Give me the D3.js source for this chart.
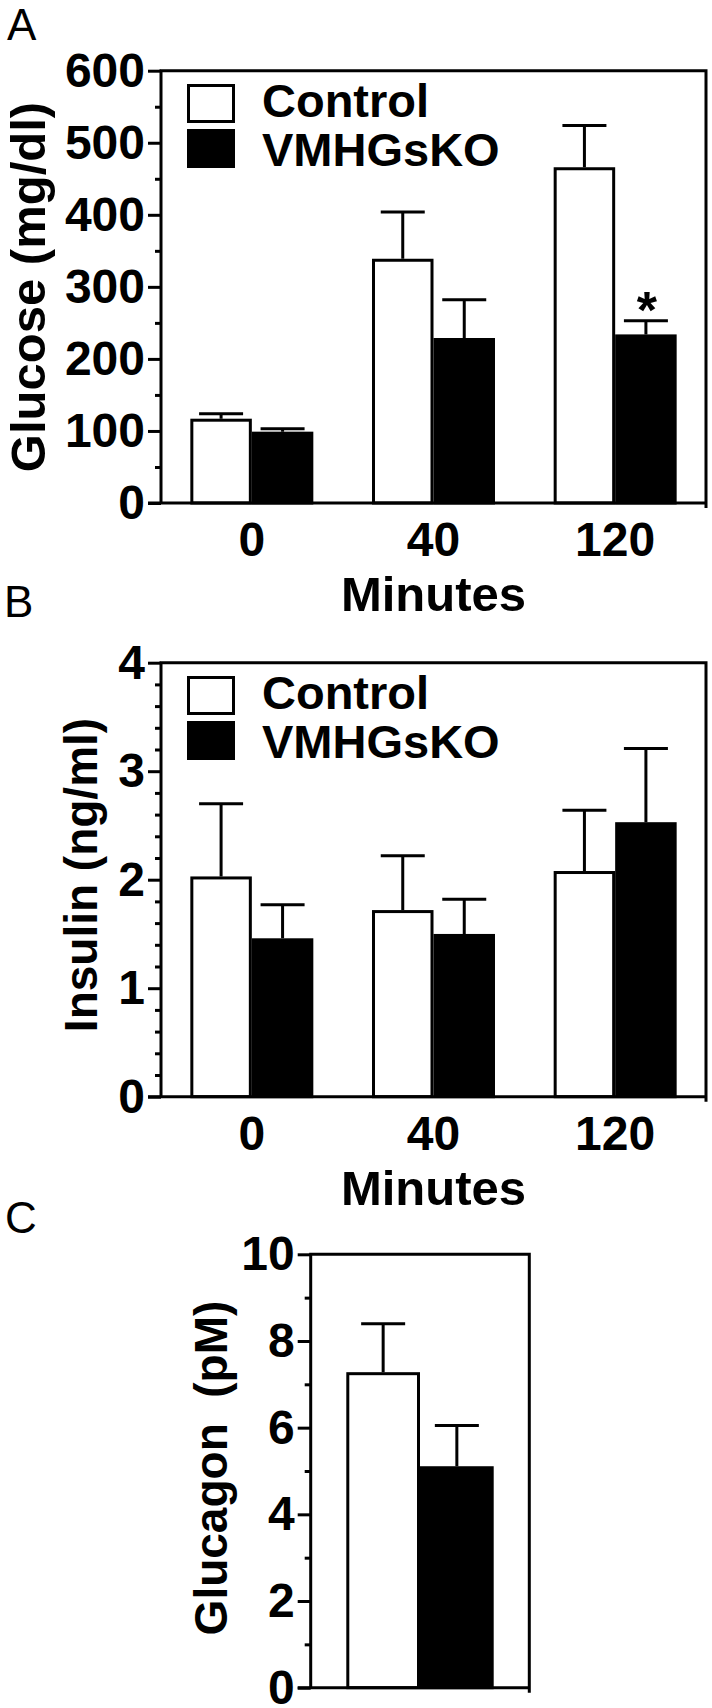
<!DOCTYPE html>
<html>
<head>
<meta charset="utf-8">
<script src="https://cdn.jsdelivr.net/npm/d3@7"></script>
<style>
  html, body { margin: 0; padding: 0; background: #fff; }
  svg { display: block; }
  text { font-family: "Liberation Sans", Arial, Helvetica, sans-serif; }
</style>
</head>
<body>
<script>
// ---------------- DATA ----------------
const timeCategories = ["0", "40", "120"];
const seriesNames = ["Control", "VMHGsKO"];

const glucoseControl = [117, 339, 466];
const glucoseControlSem = [7, 65, 58];
const glucoseKO = [99, 229, 234];
const glucoseKOSem = [4, 53, 19];
const glucoseMajorTicks = [0, 100, 200, 300, 400, 500, 600];
const glucoseMinorTicks = [50, 150, 250, 350, 450, 550];

const insulinControl = [2.03, 1.72, 2.08];
const insulinControlSem = [0.67, 0.50, 0.56];
const insulinKO = [1.46, 1.50, 2.53];
const insulinKOSem = [0.31, 0.32, 0.68];
const insulinMajorTicks = [0, 1, 2, 3, 4];
const insulinMinorTicks = [0.2, 0.4, 0.6, 0.8, 1.2, 1.4, 1.6, 1.8, 2.2, 2.4, 2.6, 2.8, 3.2, 3.4, 3.6, 3.8];

const glucagonValues = [7.28, 5.11];
const glucagonSem = [1.12, 0.94];
const glucagonMajorTicks = [0, 2, 4, 6, 8, 10];
const glucagonMinorTicks = [1, 3, 5, 7, 9];

const significance = [{ panel: "A", series: 1, category: 2, mark: "*" }];

// ---------------- DRAWING ----------------
const W = 712, H = 1708;
const svg = d3.select("body").append("svg").attr("width", W).attr("height", H);

const LW = 3;
const fills = ["#ffffff", "#000000"];
const CAP = 22;

function drawFrameAndAxes(g, y, box, major, minor, fmt) {
  g.append("g").attr("transform", `translate(${box.left},0)`)
    .call(d3.axisLeft(y).tickValues(minor).tickSize(6).tickSizeOuter(0).tickFormat(""))
    .call(s => s.select(".domain").remove())
    .call(s => s.selectAll("line").attr("stroke", "#000").attr("stroke-width", LW));
  g.append("g").attr("transform", `translate(${box.left},0)`)
    .call(d3.axisLeft(y).tickValues(major).tickSize(13).tickSizeOuter(0).tickPadding(3).tickFormat(fmt))
    .call(s => s.select(".domain").remove())
    .call(s => s.selectAll("line").attr("stroke", "#000").attr("stroke-width", LW))
    .call(s => s.selectAll("text").attr("fill", "#000")
      .style("font-family", '"Liberation Sans", Arial, sans-serif')
      .style("font-size", "48px").style("font-weight", "bold"));
  const y0 = y.range()[0], y1 = y.range()[1];
  g.append("path")
    .attr("d", `M${box.left},${y0} V${y1} H${box.right} V${y0 + 5}`)
    .attr("fill", "none").attr("stroke", "#000").attr("stroke-width", LW)
    .attr("stroke-linejoin", "miter");
  g.append("path")
    .attr("d", `M${box.left - 13},${y0} H${box.right}`)
    .attr("fill", "none").attr("stroke", "#000").attr("stroke-width", LW);
}

function drawBarsGrouped(g, x, xInner, y, seriesVals, seriesSems) {
  seriesVals.forEach((vals, si) => {
    const sems = seriesSems[si];
    const data = timeCategories.map((c, i) => ({ c, v: vals[i], e: sems[i] }));
    const gx = c => x(c) + xInner(seriesNames[si]);
    const bw = xInner.bandwidth();
    g.append("g").selectAll("path").data(data).join("path")
      .attr("d", d => {
        const cx = gx(d.c) + bw / 2;
        return `M${cx},${y(d.v)} V${y(d.v + d.e)} M${cx - CAP},${y(d.v + d.e)} H${cx + CAP}`;
      })
      .attr("fill", "none").attr("stroke", "#000").attr("stroke-width", LW);
    g.append("g").selectAll("rect").data(data).join("rect")
      .attr("x", d => gx(d.c) + LW / 2)
      .attr("width", bw - LW)
      .attr("y", d => y(d.v) + LW / 2)
      .attr("height", d => y(0) - y(d.v) - LW / 2)
      .attr("fill", fills[si]).attr("stroke", "#000").attr("stroke-width", LW);
  });
}

function drawLegend(g, top) {
  const boxX = 188.5, boxW = 45, boxH = 36;
  const rows = [top + 14.8, top + 59.8];
  const base = [top + 46.5, top + 95.5];
  seriesNames.forEach((n, i) => {
    g.append("rect").attr("x", boxX).attr("y", rows[i]).attr("width", boxW).attr("height", boxH)
      .attr("fill", fills[i]).attr("stroke", "#000").attr("stroke-width", LW);
    g.append("text").attr("x", 262).attr("y", base[i]).text(n)
      .style("font-size", "47px").style("font-weight", "bold").attr("fill", "#000");
  });
}

function xTitle(g, cx, y, txt) {
  g.append("text").attr("x", cx).attr("y", y).attr("text-anchor", "middle").text(txt)
    .style("font-size", "49px").style("font-weight", "bold").attr("fill", "#000");
}
function yTitle(g, bx, cy, txt, size) {
  g.append("text").attr("transform", `translate(${bx},${cy}) rotate(-90)`)
    .attr("text-anchor", "middle").text(txt)
    .style("font-size", size + "px").style("font-weight", "bold").attr("fill", "#000");
}
function panelLabel(g, x, y, txt) {
  g.append("text").attr("x", x).attr("y", y).text(txt)
    .style("font-size", "44px").style("font-weight", "normal").attr("fill", "#000");
}

// ----- Panel A -----
{
  const box = { left: 161, right: 706, top: 70.7, bottom: 503 };
  const g = svg.append("g");
  const y = d3.scaleLinear().domain([0, 600]).range([box.bottom, box.top]);
  const x = d3.scaleBand().domain(timeCategories).range([box.left, box.right])
    .paddingInner(0.323).paddingOuter(0.1615);
  const xi = d3.scaleBand().domain(seriesNames).range([0, x.bandwidth()]);
  drawBarsGrouped(g, x, xi, y, [glucoseControl, glucoseKO], [glucoseControlSem, glucoseKOSem]);
  drawFrameAndAxes(g, y, box, glucoseMajorTicks, glucoseMinorTicks, d3.format("d"));
  g.append("g").attr("transform", `translate(0,${box.bottom})`)
    .call(d3.axisBottom(x).tickSize(0).tickPadding(19))
    .call(s => s.select(".domain").remove())
    .call(s => s.selectAll("text").attr("fill", "#000")
      .style("font-family", '"Liberation Sans", Arial, sans-serif')
      .style("font-size", "48px").style("font-weight", "bold"));
  drawLegend(g, box.top);
  significance.filter(s => s.panel === "A").forEach(s => {
    const vals = [glucoseControl, glucoseKO][s.series];
    const sems = [glucoseControlSem, glucoseKOSem][s.series];
    const c = timeCategories[s.category];
    const cx = x(c) + xi(seriesNames[s.series]) + xi.bandwidth() / 2;
    g.append("text").attr("x", cx + 1).attr("y", y(vals[s.category] + sems[s.category]) + 7)
      .attr("text-anchor", "middle").text(s.mark)
      .style("font-size", "52px").style("font-weight", "bold").attr("fill", "#000");
  });
  xTitle(g, (box.left + box.right) / 2, box.bottom + 108, "Minutes");
  yTitle(g, 45, 287, "Glucose (mg/dl)", 49);
  panelLabel(g, 7, 40, "A");
}

// ----- Panel B -----
{
  const box = { left: 161, right: 706, top: 662.7, bottom: 1096.7 };
  const g = svg.append("g");
  const y = d3.scaleLinear().domain([0, 4]).range([box.bottom, box.top]);
  const x = d3.scaleBand().domain(timeCategories).range([box.left, box.right])
    .paddingInner(0.323).paddingOuter(0.1615);
  const xi = d3.scaleBand().domain(seriesNames).range([0, x.bandwidth()]);
  drawBarsGrouped(g, x, xi, y, [insulinControl, insulinKO], [insulinControlSem, insulinKOSem]);
  drawFrameAndAxes(g, y, box, insulinMajorTicks, insulinMinorTicks, d3.format("d"));
  g.append("g").attr("transform", `translate(0,${box.bottom})`)
    .call(d3.axisBottom(x).tickSize(0).tickPadding(19))
    .call(s => s.select(".domain").remove())
    .call(s => s.selectAll("text").attr("fill", "#000")
      .style("font-family", '"Liberation Sans", Arial, sans-serif')
      .style("font-size", "48px").style("font-weight", "bold"));
  drawLegend(g, box.top);
  xTitle(g, (box.left + box.right) / 2, box.bottom + 108, "Minutes");
  yTitle(g, 97, 875, "Insulin (ng/ml)", 46);
  panelLabel(g, 4, 617, "B");
}

// ----- Panel C -----
{
  const box = { left: 310.7, right: 529.3, top: 1254.3, bottom: 1687.7 };
  const g = svg.append("g");
  const y = d3.scaleLinear().domain([0, 10]).range([box.bottom, box.top]);
  const x = d3.scaleBand().domain(seriesNames).range([box.left, box.right])
    .paddingInner(0).paddingOuter(0.483);
  const data = seriesNames.map((n, i) => ({ n, v: glucagonValues[i], e: glucagonSem[i], i }));
  g.append("g").selectAll("path").data(data).join("path")
    .attr("d", d => {
      const cx = x(d.n) + x.bandwidth() / 2;
      return `M${cx},${y(d.v)} V${y(d.v + d.e)} M${cx - CAP},${y(d.v + d.e)} H${cx + CAP}`;
    })
    .attr("fill", "none").attr("stroke", "#000").attr("stroke-width", LW);
  g.append("g").selectAll("rect").data(data).join("rect")
    .attr("x", d => x(d.n) + LW / 2)
    .attr("width", x.bandwidth() - LW)
    .attr("y", d => y(d.v) + LW / 2)
    .attr("height", d => y(0) - y(d.v) - LW / 2)
    .attr("fill", d => fills[d.i]).attr("stroke", "#000").attr("stroke-width", LW);
  drawFrameAndAxes(g, y, box, glucagonMajorTicks, glucagonMinorTicks, d3.format("d"));
  yTitle(g, 227, 1468, "Glucagon\u00a0\u00a0(pM)", 46);
  panelLabel(g, 5, 1233, "C");
}
</script>
</body>
</html>
